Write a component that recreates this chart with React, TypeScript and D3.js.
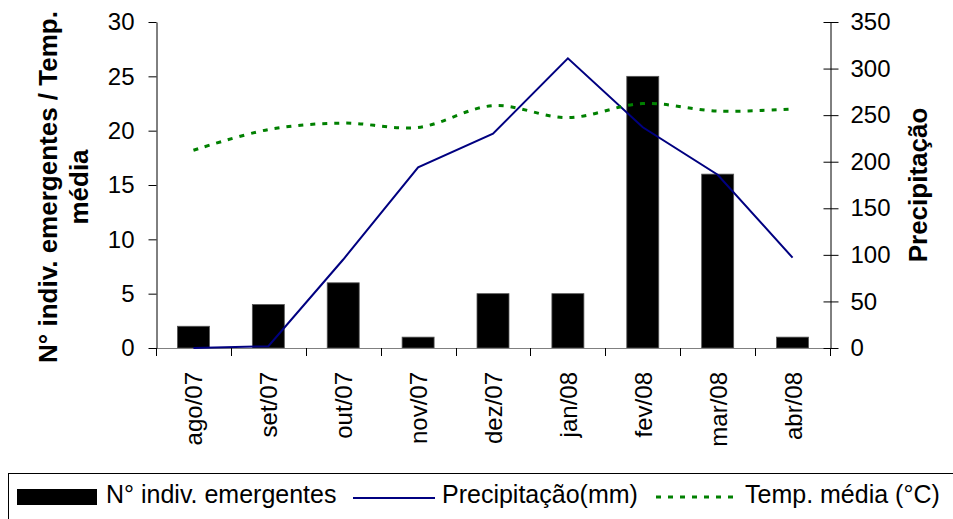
import { useEffect, useRef } from 'react';
import * as d3 from 'd3';

// months on the category axis
const months = ['ago/07', 'set/07', 'out/07', 'nov/07', 'dez/07', 'jan/08', 'fev/08', 'mar/08', 'abr/08'];
// N° indiv. emergentes (left axis)
const emergentes = [2, 4, 6, 1, 5, 5, 25, 16, 1];
// Temp. média °C (left axis)
const tempMedia = [18.2, 20.1, 20.7, 20.3, 22.3, 21.2, 22.5, 21.8, 22.0];
// Precipitação mm (right axis)
const precipitacao = [0, 2, 95, 194, 230, 311, 237, 186, 97];

const leftTicks = [0, 5, 10, 15, 20, 25, 30];
const rightTicks = [0, 50, 100, 150, 200, 250, 300, 350];

const FONT = '"Liberation Sans", Arial, sans-serif';

const App = () => {
    const svgRef = useRef<SVGSVGElement>(null);

    useEffect(() => {
        if (!svgRef.current) return;
        const svg = d3.select(svgRef.current);
        svg.selectAll('*').remove();

        const plot = { left: 156, right: 830, top: 22, bottom: 348 };

        const x = d3.scaleBand<string>()
            .domain(months)
            .range([plot.left, plot.right])
            .paddingInner(0.573)
            .paddingOuter(0.2865);

        const yL = d3.scaleLinear().domain([0, 30]).range([plot.bottom, plot.top]);
        const yR = d3.scaleLinear().domain([0, 350]).range([plot.bottom, plot.top]);

        const cx = (m: string) => (x(m) ?? 0) + x.bandwidth() / 2;

        // bars
        svg.append('g')
            .selectAll('rect')
            .data(months)
            .join('rect')
            .attr('x', d => x(d) ?? 0)
            .attr('y', (d, i) => yL(emergentes[i]))
            .attr('width', x.bandwidth())
            .attr('height', (d, i) => yL(0) - yL(emergentes[i]))
            .attr('fill', '#000')
            .attr('stroke', '#555')
            .attr('stroke-width', 0.8);

        // x axis line and category ticks
        svg.append('line')
            .attr('x1', plot.left).attr('x2', plot.right)
            .attr('y1', plot.bottom + 0.5).attr('y2', plot.bottom + 0.5)
            .attr('stroke', '#808080').attr('stroke-width', 1.2);

        const step = x.step();
        const bounds = d3.range(months.length + 1).map(i => plot.left + i * step);
        svg.append('g')
            .selectAll('line')
            .data(bounds)
            .join('line')
            .attr('x1', d => Math.round(d) + 0.5)
            .attr('x2', d => Math.round(d) + 0.5)
            .attr('y1', plot.bottom)
            .attr('y2', plot.bottom + 8)
            .attr('stroke', '#000');

        svg.append('g')
            .selectAll('text')
            .data(months)
            .join('text')
            .attr('transform', d => `translate(${cx(d) + 9},${plot.bottom + 24}) rotate(-90)`)
            .attr('text-anchor', 'end')
            .style('font-family', FONT)
            .style('font-size', '24px')
            .attr('fill', '#000')
            .text(d => d);

        // left axis
        const gL = svg.append('g')
            .attr('transform', `translate(${plot.left + 0.5},0)`)
            .call(d3.axisLeft(yL).tickValues(leftTicks).tickSize(8).tickSizeOuter(0).tickPadding(14));
        gL.select('.domain').attr('stroke', '#000');
        gL.selectAll('.tick line').attr('stroke', '#000');
        gL.selectAll('.tick text')
            .style('font-family', FONT)
            .style('font-size', '24px')
            .attr('fill', '#000');

        // right axis
        const gR = svg.append('g')
            .attr('transform', `translate(${plot.right + 0.5},0)`)
            .call(d3.axisRight(yR).tickValues(rightTicks).tickSize(8).tickSizeOuter(0).tickPadding(12));
        gR.select('.domain').attr('stroke', '#000');
        gR.selectAll('.tick line').attr('stroke', '#000').attr('x1', -7);
        gR.selectAll('.tick text')
            .style('font-family', FONT)
            .style('font-size', '24px')
            .attr('fill', '#000');

        // precipitation line
        const precLine = d3.line<number>()
            .x((d, i) => cx(months[i]))
            .y(d => yR(d));
        svg.append('path')
            .datum(precipitacao)
            .attr('d', precLine)
            .attr('fill', 'none')
            .attr('stroke', '#000080')
            .attr('stroke-width', 2);

        // temperature line (smoothed, dashed)
        const tempLine = d3.line<number>()
            .x((d, i) => cx(months[i]))
            .y(d => yL(d))
            .curve(d3.curveCatmullRom.alpha(0.5));
        svg.append('path')
            .datum(tempMedia)
            .attr('d', tempLine)
            .attr('fill', 'none')
            .attr('stroke', '#008000')
            .attr('stroke-width', 3)
            .attr('stroke-dasharray', '5,7');

        // axis titles
        const leftTitle = svg.append('text')
            .attr('transform', `translate(57,${(plot.top + plot.bottom) / 2 + 2}) rotate(-90)`)
            .attr('text-anchor', 'middle')
            .style('font-family', FONT)
            .style('font-size', '26px')
            .style('font-weight', 'bold')
            .attr('fill', '#000');
        leftTitle.append('tspan').attr('x', 0).attr('y', 0).text('N° indiv. emergentes / Temp.');
        leftTitle.append('tspan').attr('x', 0).attr('y', 31).text('média');

        svg.append('text')
            .attr('transform', `translate(927,${(plot.top + plot.bottom) / 2}) rotate(-90)`)
            .attr('text-anchor', 'middle')
            .style('font-family', FONT)
            .style('font-size', '26px')
            .style('font-weight', 'bold')
            .attr('fill', '#000')
            .text('Precipitação');

        // legend
        const lg = svg.append('g');
        lg.append('rect')
            .attr('x', 8.5).attr('y', 473.5)
            .attr('width', 960).attr('height', 80)
            .attr('fill', 'none')
            .attr('stroke', '#000');

        const legendText = (tx: number, label: string) =>
            lg.append('text')
                .attr('x', tx).attr('y', 503)
                .style('font-family', FONT)
                .style('font-size', '25px')
                .attr('fill', '#000')
                .text(label);

        lg.append('rect')
            .attr('x', 17).attr('y', 489)
            .attr('width', 80).attr('height', 16)
            .attr('fill', '#000');
        legendText(106, 'N° indiv. emergentes');

        lg.append('line')
            .attr('x1', 353).attr('x2', 435)
            .attr('y1', 498).attr('y2', 498)
            .attr('stroke', '#000080').attr('stroke-width', 2);
        legendText(442, 'Precipitação(mm)');

        lg.append('line')
            .attr('x1', 656).attr('x2', 735)
            .attr('y1', 497).attr('y2', 497)
            .attr('stroke', '#008000').attr('stroke-width', 3)
            .attr('stroke-dasharray', '5,7');
        legendText(745, 'Temp. média (°C)');
    }, []);

    return (
        <div style={{ position: 'absolute', left: 0, top: 0 }}>
            <svg ref={svgRef} width={953} height={519} style={{ display: 'block', background: '#fff' }}></svg>
        </div>
    );
};

export default App;
